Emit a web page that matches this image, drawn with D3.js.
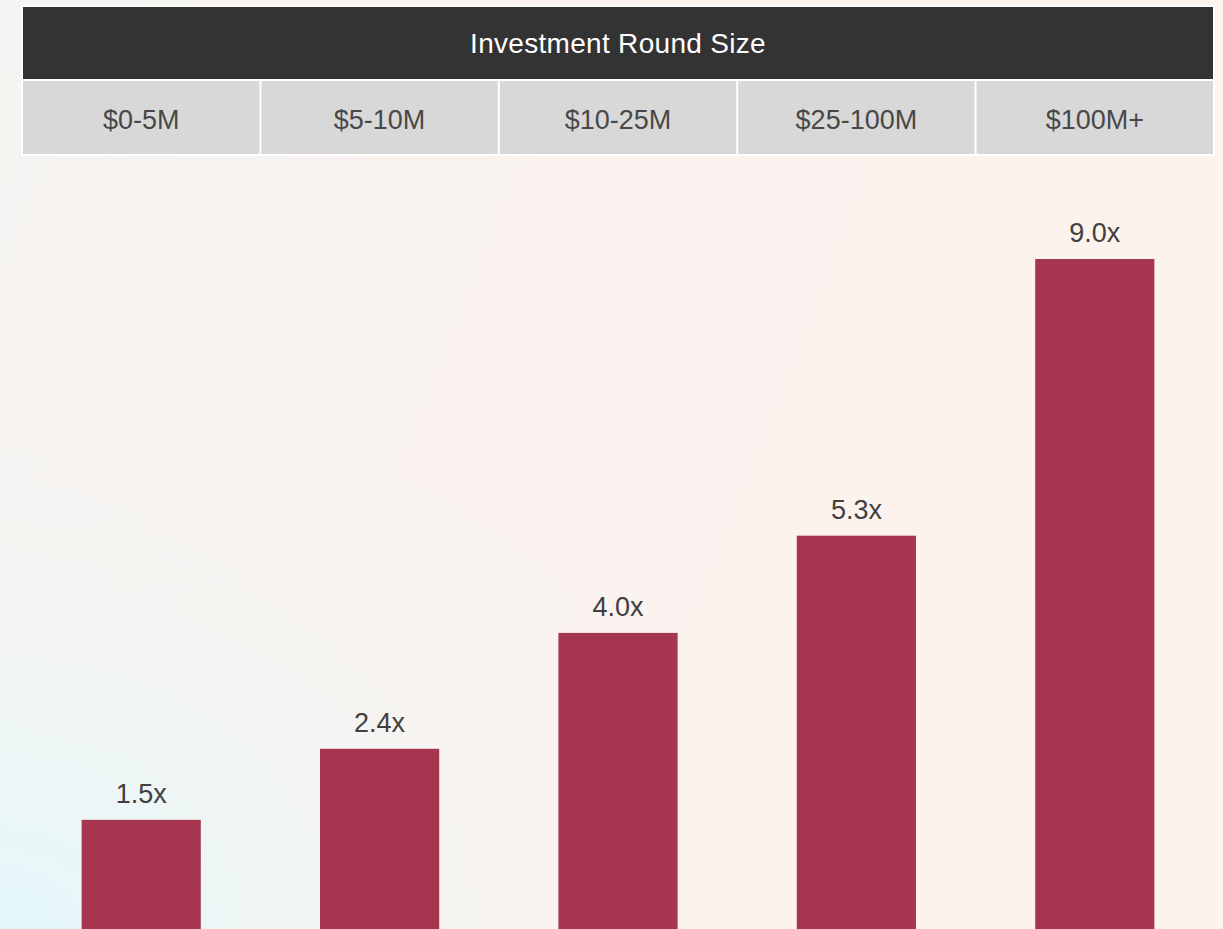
<!DOCTYPE html>
<html>
<head>
<meta charset="utf-8">
<script src="https://cdn.jsdelivr.net/npm/d3@7"></script>
<style>
  html, body { margin: 0; padding: 0; width: 1223px; height: 929px; overflow: hidden; }
  svg { display: block; }
  text { font-family: "Liberation Sans", Arial, Helvetica, sans-serif; }
</style>
</head>
<body>
<svg id="chart" width="1223" height="929"></svg>
<script>
const title = "Investment Round Size";
const categories = ["$0-5M", "$5-10M", "$10-25M", "$25-100M", "$100M+"];
const values = [1.5, 2.45, 4.0, 5.3, 9.0];
const valueLabels = ["1.5x", "2.4x", "4.0x", "5.3x", "9.0x"];

const W = 1223, H = 929;
const svg = d3.select("#chart");
const defs = svg.append("defs");

// background gradients
const lg = defs.append("linearGradient").attr("id", "bgLin")
  .attr("x1", "0").attr("y1", "0").attr("x2", "1").attr("y2", "0.3");
lg.append("stop").attr("offset", "0").attr("stop-color", "#f5f4f2");
lg.append("stop").attr("offset", "0.45").attr("stop-color", "#faf3ef");
lg.append("stop").attr("offset", "1").attr("stop-color", "#fdf3ee");

const rg = defs.append("radialGradient").attr("id", "bgRad")
  .attr("cx", "0").attr("cy", "1").attr("r", "0.6")
  .attr("gradientUnits", "objectBoundingBox");
rg.append("stop").attr("offset", "0").attr("stop-color", "#e4f8fb").attr("stop-opacity", 1);
rg.append("stop").attr("offset", "0.5").attr("stop-color", "#eef6f6").attr("stop-opacity", 0.6);
rg.append("stop").attr("offset", "1").attr("stop-color", "#f5f4f2").attr("stop-opacity", 0);

svg.append("rect").attr("width", W).attr("height", H).attr("fill", "url(#bgLin)");
svg.append("rect").attr("width", W).attr("height", H).attr("fill", "url(#bgRad)");

// scales
const x = d3.scaleBand().domain(categories).range([22, 1214]).paddingInner(0).paddingOuter(0);
const xBar = d3.scaleBand().domain(categories).range([22, 1214]).paddingInner(0.5).paddingOuter(0.25);
const y = d3.scaleLinear().domain([0, 9]).range([932, 259]);

// header table
svg.append("rect").attr("x", x.range()[0] - 1).attr("y", 5)
  .attr("width", x.range()[1] - x.range()[0] + 2).attr("height", 151).attr("fill", "#ffffff");
svg.append("rect").attr("x", x.range()[0] + 1).attr("y", 7)
  .attr("width", x.range()[1] - x.range()[0] - 2).attr("height", 72).attr("fill", "#333333");
svg.append("text").attr("x", (x.range()[0] + x.range()[1]) / 2).attr("y", 53)
  .attr("text-anchor", "middle").attr("fill", "#ffffff")
  .attr("font-size", 28).attr("font-weight", 500).attr("letter-spacing", 0.3).text(title);

const cells = svg.append("g").selectAll("g").data(categories).join("g");
cells.append("rect")
  .attr("x", d => x(d) + 1).attr("y", 81)
  .attr("width", x.bandwidth() - 2).attr("height", 73).attr("fill", "#d8d8d8");
cells.append("text")
  .attr("x", d => x(d) + x.bandwidth() / 2).attr("y", 129)
  .attr("text-anchor", "middle").attr("fill", "#484848")
  .attr("font-size", 27).text(d => d);

// bars
svg.append("g").selectAll("rect").data(values).join("rect")
  .attr("x", (d, i) => xBar(categories[i]))
  .attr("y", d => y(d))
  .attr("width", xBar.bandwidth())
  .attr("height", d => y(0) - y(d))
  .attr("fill", "#a6364f");

svg.append("g").selectAll("text").data(values).join("text")
  .attr("x", (d, i) => xBar(categories[i]) + xBar.bandwidth() / 2)
  .attr("y", d => y(d) - 17)
  .attr("text-anchor", "middle").attr("fill", "#404040")
  .attr("font-size", 27).text((d, i) => valueLabels[i]);
</script>
</body>
</html>
